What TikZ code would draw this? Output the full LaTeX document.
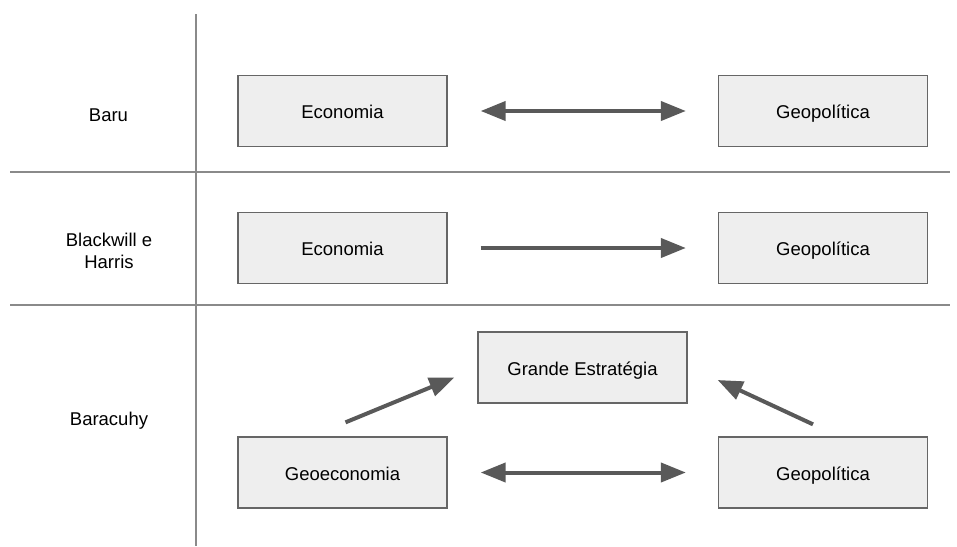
\documentclass[tikz,border=0pt]{standalone}
\usepackage{fontspec}
\setmainfont{Liberation Sans}
\usetikzlibrary{arrows.meta}
\definecolor{boxfill}{HTML}{EEEEEE}
\definecolor{boxline}{HTML}{666666}
\definecolor{arrowgray}{HTML}{595959}
\definecolor{rulegray}{HTML}{8A8A8A}
\begin{document}
\begin{tikzpicture}[x=1pt,y=-1pt,
	every node/.style={font=\fontsize{18.5}{22}\selectfont},
	concept/.style={draw=boxline,fill=boxfill,line width=1.3pt,minimum width=209pt,minimum height=71pt,inner sep=0pt,text height=17pt,text depth=2pt},
	author/.style={align=center,anchor=base},
	link/.style={draw=arrowgray,line width=4pt,-{Triangle[length=25pt,width=19pt]}},
	bilink/.style={link,{Triangle[length=25pt,width=19pt]}-{Triangle[length=25pt,width=19pt]}}]
	\useasboundingbox (0,0) rectangle (957,546);
	\draw[rulegray,line width=1.2pt] (196,14) -- (196,546);
	\draw[rulegray,line width=1.2pt] (10,172) -- (950,172);
	\draw[rulegray,line width=1.2pt] (10,305) -- (950,305);
	\node[author] (baru) at (108.5,121) {Baru};
	\node[author] (blackwill) at (109,268) {Blackwill e\\Harris};
	\node[author] (baracuhy) at (109,425) {Baracuhy};
	\node[concept] (eco1) at (342.5,111) {Economia};
	\node[concept] (geo1) at (823,111) {Geopolítica};
	\node[concept] (eco2) at (342.5,248) {Economia};
	\node[concept] (geo2) at (823,248) {Geopolítica};
	\node[concept] (grande) at (582.5,367.5) {Grande Estratégia};
	\node[concept] (geoeco) at (342.5,472.5) {Geoeconomia};
	\node[concept] (geo3) at (823,472.5) {Geopolítica};
	\draw[bilink,shorten <=33pt,shorten >=32pt] (eco1) -- (geo1);
	\draw[link,shorten <=33pt,shorten >=32pt] (eco2) -- (geo2);
	\draw[bilink,shorten <=33pt,shorten >=32pt] (geoeco) -- (geo3);
	\draw[link] ([xshift=3pt,yshift=14pt]geoeco.north) -- ([xshift=-23pt,yshift=-10pt]grande.west);
	\draw[link] ([xshift=-10pt,yshift=12pt]geo3.north) -- ([xshift=30pt,yshift=-12.5pt]grande.east);
\end{tikzpicture}
\end{document}
